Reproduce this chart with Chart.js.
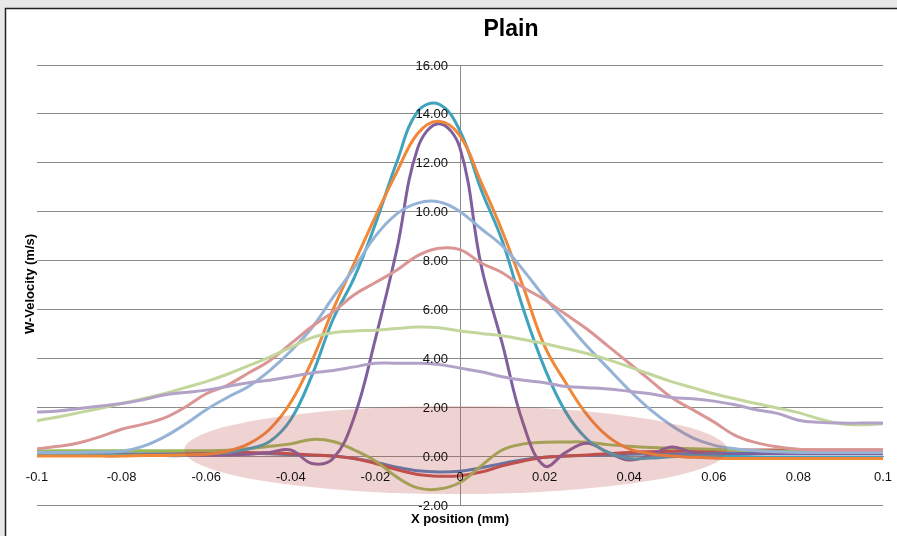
<!DOCTYPE html>
<html>
<head>
<meta charset="utf-8">
<title>Plain</title>
<script src="https://cdn.jsdelivr.net/npm/chart.js@4/dist/chart.umd.min.js"></script>
<style>
  html, body { margin: 0; padding: 0; background: #e8e8e8; }
  canvas { display: block; }
</style>
</head>
<body>
<canvas id="chart" width="897" height="536"></canvas>
<script>
// X positions (mm) shared by every trace
const xPositions = [
  -0.1, -0.095, -0.09, -0.085, -0.08, -0.075, -0.07, -0.065, -0.06, -0.055,
  -0.05, -0.045, -0.04, -0.035, -0.03, -0.025, -0.02, -0.015, -0.01, -0.005,
  0,
  0.005, 0.01, 0.015, 0.02, 0.025, 0.03, 0.035, 0.04, 0.045, 0.05,
  0.055, 0.06, 0.065, 0.07, 0.075, 0.08, 0.085, 0.09, 0.095, 0.1
];

// W-velocity (m/s) of each trace at the positions above
const wBlue = [0.1,0.1,0.1,0.1,0.1,0.1,0.1,0.1,0.1,0.1,0.1,0.1,0.06,0.04,0.0,-0.1,-0.25,-0.45,-0.6,-0.65,-0.62,-0.48,-0.3,-0.15,-0.05,0.0,0.03,0.05,0.08,0.09,0.1,0.1,0.11,0.11,0.12,0.12,0.12,0.12,0.12,0.12,0.12];
const wRed = [0.05,0.05,0.05,0.05,0.06,0.07,0.08,0.1,0.12,0.15,0.15,0.13,0.1,0.05,0.0,-0.1,-0.3,-0.55,-0.75,-0.82,-0.8,-0.65,-0.4,-0.2,-0.05,0.0,0.05,0.1,0.15,0.18,0.2,0.22,0.23,0.24,0.25,0.25,0.25,0.25,0.25,0.25,0.25];
const wGreen = [0.2,0.22,0.22,0.22,0.22,0.22,0.22,0.22,0.22,0.24,0.3,0.4,0.5,0.68,0.6,0.25,-0.2,-0.85,-1.3,-1.35,-1.08,-0.4,0.25,0.5,0.57,0.58,0.57,0.47,0.4,0.35,0.32,0.3,0.28,0.25,0.22,0.2,0.2,0.2,0.2,0.2,0.2];
const wPurple = [0.02,0.02,0.02,0.02,0.02,0.02,0.02,0.02,0.03,0.05,0.08,0.15,0.25,-0.3,-0.1,1.6,4.8,8.4,12.6,13.6,12.6,7.8,4.6,1.3,-0.4,0.15,0.53,0.15,-0.16,0.04,0.37,0.15,0.05,0.08,0.1,0.1,0.1,0.1,0.1,0.1,0.1];
const wTeal = [0.05,0.05,0.05,0.05,0.05,0.05,0.05,0.05,0.08,0.15,0.3,0.6,1.5,3.3,5.6,7.3,9.5,12.0,14.1,14.4,13.3,10.9,8.8,6.0,3.6,1.8,0.7,0.15,-0.1,-0.08,-0.03,0.0,0.0,-0.02,-0.04,-0.05,-0.05,-0.05,-0.05,-0.05,-0.05];
const wOrange = [0.0,0.0,0.0,0.0,0.0,0.02,0.03,0.05,0.08,0.2,0.5,1.1,2.2,3.9,6.0,7.9,9.8,11.6,13.2,13.7,13.1,11.2,9.2,6.9,4.5,3.0,1.7,0.8,0.3,0.1,0.0,-0.05,-0.08,-0.1,-0.1,-0.1,-0.1,-0.1,-0.1,-0.1,-0.1];
const wSky = [0.15,0.15,0.15,0.17,0.2,0.4,0.78,1.3,1.9,2.4,2.85,3.5,4.3,5.25,6.5,7.7,9.0,9.9,10.35,10.4,10.0,9.3,8.6,7.6,6.5,5.5,4.5,3.6,2.7,1.9,1.25,0.75,0.45,0.3,0.22,0.18,0.15,0.15,0.15,0.15,0.15];
const wRose = [0.3,0.4,0.55,0.8,1.1,1.3,1.55,2.0,2.55,2.9,3.4,3.9,4.6,5.3,5.9,6.6,7.1,7.6,8.2,8.5,8.45,7.9,7.5,6.9,6.4,5.8,5.2,4.5,3.8,3.1,2.4,1.9,1.4,0.85,0.55,0.38,0.28,0.25,0.25,0.25,0.25];
const wLime = [1.45,1.6,1.78,1.96,2.15,2.35,2.55,2.8,3.05,3.35,3.7,4.05,4.45,4.85,5.05,5.12,5.15,5.22,5.28,5.25,5.12,5.02,4.92,4.77,4.6,4.4,4.2,3.95,3.65,3.35,3.05,2.8,2.55,2.35,2.15,1.97,1.78,1.52,1.32,1.28,1.32];
const wLavender = [1.8,1.85,1.95,2.05,2.15,2.3,2.5,2.6,2.7,2.85,3.0,3.1,3.25,3.4,3.5,3.65,3.8,3.8,3.8,3.75,3.6,3.45,3.25,3.1,3.0,2.85,2.8,2.75,2.65,2.55,2.4,2.35,2.25,2.1,1.9,1.75,1.47,1.38,1.35,1.35,1.35];

// Axis ticks
const xTickValues = [-0.1, -0.08, -0.06, -0.04, -0.02, 0, 0.02, 0.04, 0.06, 0.08, 0.1];
const xTickLabels = ['-0.1', '-0.08', '-0.06', '-0.04', '-0.02', '0', '0.02', '0.04', '0.06', '0.08', '0.1'];
const yTickValues = [-2, 0, 2, 4, 6, 8, 10, 12, 14, 16];
const yTickLabels = ['-2.00', '0.00', '2.00', '4.00', '6.00', '8.00', '10.00', '12.00', '14.00', '16.00'];

const traces = [
  { values: wBlue, color: '#4f81bd' },
  { values: wRed, color: '#c0504d' },
  { values: wGreen, color: '#9bbb59' },
  { values: wPurple, color: '#7f5f9f' },
  { values: wTeal, color: '#3fa3bd' },
  { values: wOrange, color: '#f08838' },
  { values: wSky, color: '#95b3d7' },
  { values: wRose, color: '#d99694' },
  { values: wLime, color: '#c3d69b' },
  { values: wLavender, color: '#b3a2c7' }
];

const FONT = '"Liberation Sans", Arial, sans-serif';

// Window frame behind the chart
const framePlugin = {
  id: 'frame',
  beforeDraw(chart) {
    const ctx = chart.ctx;
    ctx.save();
    ctx.fillStyle = '#e8e8e8';
    ctx.fillRect(0, 0, chart.width, chart.height);
    ctx.fillStyle = '#ffffff';
    ctx.fillRect(6, 9, chart.width - 6, chart.height - 9);
    ctx.strokeStyle = '#222222';
    ctx.lineWidth = 1.5;
    ctx.beginPath();
    ctx.moveTo(5.5, chart.height);
    ctx.lineTo(5.5, 8.5);
    ctx.lineTo(chart.width, 8.5);
    ctx.stroke();
    ctx.restore();
  }
};

// Translucent highlight ellipse around the near-zero traces
const zonePlugin = {
  id: 'zone',
  afterDatasetsDraw(chart, args, opts) {
    const { x, y } = chart.scales;
    const cx = x.getPixelForValue(opts.cx);
    const cy = y.getPixelForValue(opts.cy);
    const rx = Math.abs(x.getPixelForValue(opts.cx + opts.rx) - cx);
    const ry = Math.abs(y.getPixelForValue(opts.cy + opts.ry) - cy);
    const ctx = chart.ctx;
    ctx.save();
    ctx.fillStyle = opts.color;
    ctx.beginPath();
    ctx.ellipse(cx, cy, rx, ry, 0, 0, Math.PI * 2);
    ctx.fill();
    ctx.restore();
  }
};

// Value labels of the vertical axis, set off to the left of the axis line at x = 0
const yLabelsPlugin = {
  id: 'yLabels',
  afterDraw(chart, args, opts) {
    const { x, y } = chart.scales;
    const axisX = x.getPixelForValue(0);
    const ctx = chart.ctx;
    ctx.save();
    ctx.fillStyle = '#111111';
    ctx.font = '13px ' + FONT;
    ctx.textAlign = 'right';
    ctx.textBaseline = 'middle';
    y.ticks.forEach((t, i) => {
      ctx.fillText(yTickLabels[i], axisX - opts.gap, y.getPixelForValue(t.value) + 1);
    });
    ctx.restore();
  }
};

// Chart title and axis titles
const titlesPlugin = {
  id: 'titles',
  afterDraw(chart) {
    const ctx = chart.ctx;
    ctx.save();
    ctx.fillStyle = '#000000';
    ctx.textAlign = 'center';
    ctx.textBaseline = 'middle';
    ctx.font = 'bold 23px ' + FONT;
    ctx.fillText('Plain', 511, 30);
    ctx.font = 'bold 13px ' + FONT;
    ctx.fillText('X position (mm)', 460, 519);
    ctx.translate(30, 284);
    ctx.rotate(-Math.PI / 2);
    ctx.fillText('W-Velocity (m/s)', 0, 0);
    ctx.restore();
  }
};

new Chart(document.getElementById('chart'), {
  type: 'line',
  data: {
    datasets: traces.map((t, i) => ({
      data: xPositions.map((xv, k) => ({ x: xv, y: t.values[k] })),
      borderColor: t.color,
      backgroundColor: t.color,
      borderWidth: 3,
      pointRadius: 0,
      tension: 0.4,
      fill: false,
      order: traces.length - i
    }))
  },
  options: {
    responsive: false,
    animation: false,
    devicePixelRatio: 1,
    layout: { padding: { left: 37, right: 14, top: 65, bottom: 31 } },
    plugins: {
      legend: { display: false },
      tooltip: { enabled: false },
      title: { display: false },
      zone: { cx: -0.001, cy: 0.25, rx: 0.0642, ry: 1.8, color: 'rgba(192, 80, 77, 0.25)' },
      yLabels: { gap: 12 }
    },
    scales: {
      x: {
        type: 'linear',
        min: -0.1,
        max: 0.1,
        position: { y: 0 },
        afterBuildTicks: (scale) => { scale.ticks = xTickValues.map(v => ({ value: v })); },
        afterFit: (scale) => { scale.paddingLeft = 0; scale.paddingRight = 0; },
        grid: { display: true, color: 'rgba(0,0,0,0)', drawTicks: false },
        border: { display: true, color: '#8a8a8a', width: 1 },
        ticks: {
          z: 1,
          padding: 14,
          color: '#111111',
          autoSkip: false,
          maxRotation: 0,
          font: { family: FONT, size: 13 },
          callback: (v, i) => xTickLabels[i]
        }
      },
      y: {
        type: 'linear',
        min: -2,
        max: 16,
        position: { x: 0 },
        afterBuildTicks: (scale) => { scale.ticks = yTickValues.map(v => ({ value: v })); },
        afterFit: (scale) => { scale.paddingTop = 0; scale.paddingBottom = 0; },
        grid: { color: '#8a8a8a', lineWidth: 1, drawTicks: false },
        border: { display: true, color: '#8a8a8a', width: 1 },
        ticks: { display: false }
      }
    }
  },
  plugins: [framePlugin, zonePlugin, yLabelsPlugin, titlesPlugin]
});
</script>
</body>
</html>
